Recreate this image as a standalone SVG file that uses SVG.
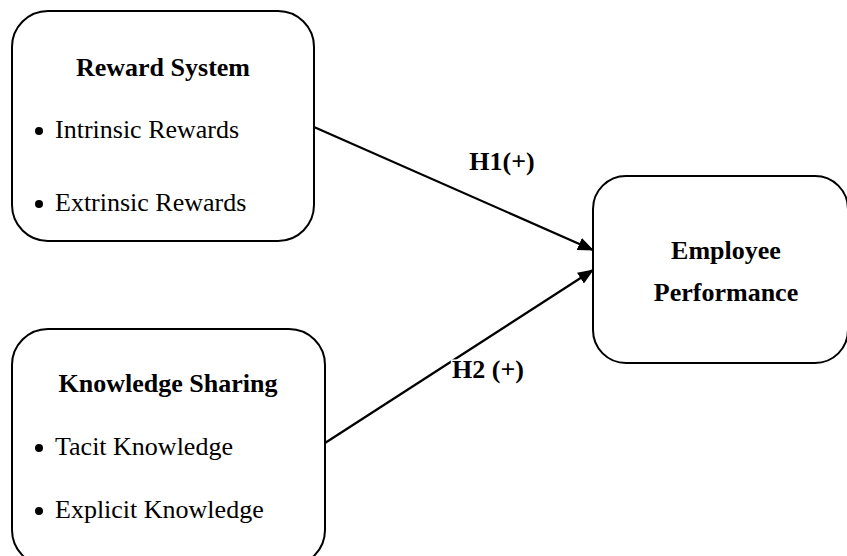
<svg xmlns="http://www.w3.org/2000/svg" width="847" height="556" viewBox="0 0 847 556">
<style>
.box{fill:#fff;stroke:#000;stroke-width:2}
.t{font-family:"Liberation Serif","Times New Roman",serif;font-size:26px;fill:#000}
.b{font-weight:bold}
.c{text-anchor:middle}
.conn{stroke:#000;stroke-width:2.2;fill:none}
</style>
<defs>
<marker id="ah" markerWidth="16" markerHeight="13" refX="15" refY="6.5" orient="auto" markerUnits="userSpaceOnUse">
<path d="M0,0 L16,6.5 L0,13 Z" fill="#000"/>
</marker>
</defs>
<g id="connectors">
<line class="conn" x1="314" y1="127" x2="593" y2="250" marker-end="url(#ah)"/>
<line class="conn" x1="325" y1="443" x2="593" y2="270" marker-end="url(#ah)"/>
<text class="t b c" x="502" y="170">H1(+)</text>
<text class="t b c" x="488" y="378" stroke="#fff" stroke-width="3" paint-order="stroke">H2 (+)</text>
</g>
<g id="reward">
<rect class="box" x="12" y="11" width="302" height="230" rx="36"/>
<text class="t b c" x="163" y="76">Reward System</text>
<circle cx="39" cy="131" r="4"/>
<text class="t" x="55" y="138">Intrinsic Rewards</text>
<circle cx="39" cy="204" r="4"/>
<text class="t" x="55" y="211">Extrinsic Rewards</text>
</g>
<g id="knowledge">
<rect class="box" x="12" y="329" width="313" height="237" rx="36"/>
<text class="t b c" x="168" y="392">Knowledge Sharing</text>
<circle cx="39" cy="448" r="4"/>
<text class="t" x="55" y="455">Tacit Knowledge</text>
<circle cx="39" cy="511" r="4"/>
<text class="t" x="55" y="518">Explicit Knowledge</text>
</g>
<g id="performance">
<rect class="box" x="593" y="176" width="255" height="187" rx="33"/>
<text class="t b c" x="726" y="259">Employee</text>
<text class="t b c" x="726" y="301">Performance</text>
</g>
</svg>
